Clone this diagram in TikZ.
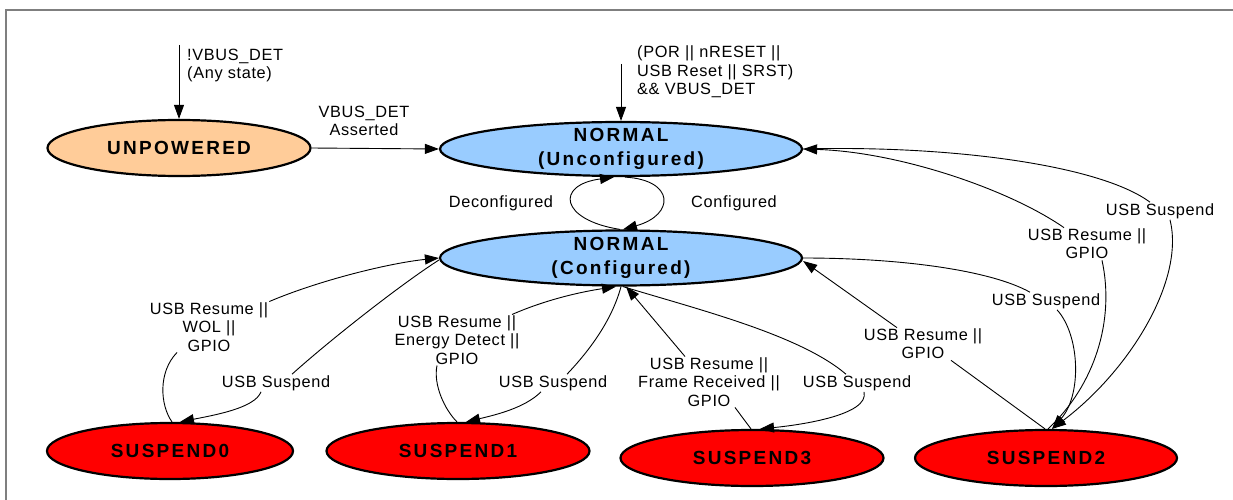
\documentclass[tikz,border=0pt]{standalone}
\usepackage{fontspec}
\setmainfont{Liberation Sans}
\usetikzlibrary{shapes.geometric,arrows.meta}
\definecolor{peach}{HTML}{FFCC99}
\definecolor{lblue}{HTML}{99CCFF}
\definecolor{framegray}{HTML}{7F7F7F}
\newcommand\statefont{\fontsize{19}{23.5}\selectfont\bfseries\addfontfeature{LetterSpace=12}}
\newcommand\lblfont{\fontsize{16.3}{18.3}\selectfont\addfontfeature{LetterSpace=4}}
\begin{document}
\begin{tikzpicture}[x=1pt,y=-1pt,
  state/.style={ellipse, draw=black, line width=2.2pt, inner xsep=0pt, inner ysep=-6pt, align=center, font=\statefont},
  lbl/.style={align=center, inner sep=1pt, font=\lblfont},
  conn/.style={line width=0.9pt},
  arr/.style={conn, -{Triangle[length=14pt,width=10pt]}},
]
\useasboundingbox (0,0) rectangle (1233,500);
\draw[framegray, line width=1.5pt] (6,500) -- (6,10) -- (1233,10);

% states
\node[state, fill=peach, minimum width=263pt, minimum height=56pt] (up) at (179,148) {UNPOWERED};
\node[state, fill=lblue, minimum width=362pt, minimum height=54pt] (nu) at (621,149) {NORMAL\\(Unconfigured)};
\node[state, fill=lblue, minimum width=362pt, minimum height=55pt] (nc) at (621,258) {NORMAL\\(Configured)};
\node[state, fill=red, minimum width=246pt, minimum height=56pt] (s0) at (170,451) {SUSPEND0};
\node[state, fill=red, minimum width=263pt, minimum height=56pt] (s1) at (458,451) {SUSPEND1};
\node[state, fill=red, minimum width=263pt, minimum height=56pt] (s3) at (752,458) {SUSPEND3};
\node[state, fill=red, minimum width=262pt, minimum height=56pt] (s2) at (1046,458) {SUSPEND2};

% labels
\node[lbl, align=left, anchor=west] (l1) at (186,65.5) {!VBUS\_DET\\(Any state)};
\node[lbl] (l2) at (364,121) {VBUS\_DET\\Asserted};
\node[lbl, align=left, anchor=west] (l3) at (636,72) {(POR || nRESET ||\\USB Reset || SRST)\\\&\& VBUS\_DET};
\node[lbl] (ldec) at (501,203) {Deconfigured};
\node[lbl] (lcon) at (734,203) {Configured};
\node[lbl] (la) at (1087,244) {USB Resume ||\\GPIO};
\node[lbl] (lb) at (1160,211) {USB Suspend};
\node[lbl] (lc) at (1046,301) {USB Suspend};
\node[lbl] (ld) at (923,344) {USB Resume ||\\GPIO};
\node[lbl] (le) at (209,327) {USB Resume ||\\WOL ||\\GPIO};
\node[lbl] (lf) at (276,383) {USB Suspend};
\node[lbl] (lg) at (457,340) {USB Resume ||\\Energy Detect ||\\GPIO};
\node[lbl] (lh) at (553,383) {USB Suspend};
\node[lbl] (li) at (709,382) {USB Resume ||\\Frame Received ||\\GPIO};
\node[lbl] (lj) at (857,383) {USB Suspend};

% entry arrows
\coordinate (t1) at (179,45);
\coordinate (t2) at (621,64);
\draw[arr] (t1) -- (up.north);
\draw[arr] (t2) -- (nu.north);
\draw[arr] (up.east) -- (nu.west);

% configure loop
\draw[arr] ([xshift=-1pt]nc.north) .. controls (560,220) and (555,185) .. ([xshift=-7pt]nu.south);
\draw[arr] ([xshift=4pt]nu.south) .. controls (675,180) and (675,215) .. ([xshift=2pt]nc.north);

% SUSPEND2 <-> NORMAL (Unconfigured)
\draw[conn] ([xshift=2pt]s2.north) .. controls (1095,385) and (1115,320) .. ([xshift=15pt]la.south);
\draw[arr] ([xshift=-23pt]la.north) .. controls (1010,190) and (900,152) .. (nu.east);
\draw[conn] (nu.east) .. controls (950,145) and (1100,165) .. ([xshift=-10pt]lb.north);
\draw[arr] ([xshift=10pt]lb.south) .. controls (1185,280) and (1130,370) .. ([xshift=6pt]s2.north);

% SUSPEND2 <-> NORMAL (Configured)
\draw[conn] (nc.east) .. controls (900,258) and (990,270) .. ([xshift=-16pt]lc.north);
\draw[arr] ([xshift=11pt]lc.south) .. controls (1080,335) and (1082,395) .. ([xshift=6pt]s2.north);
\draw[conn] ([xshift=-1pt]s2.north) -- ([xshift=28pt]ld.south);
\draw[arr] ([xshift=-26pt]ld.north) -- ([yshift=-3pt]nc.east);

% SUSPEND0
\draw[conn] ([xshift=2pt]s0.north) .. controls (160,405) and (158,372) .. ([xshift=-32pt]le.south);
\draw[arr] (le.north east) .. controls (320,280) and (390,263) .. (nc.west);
\draw[conn] ([yshift=-2pt]nc.west) .. controls (400,285) and (330,340) .. ([xshift=16pt]lf.north);
\draw[arr] ([xshift=-15pt]lf.south) .. controls (255,408) and (215,415) .. ([xshift=10pt]s0.north);

% SUSPEND1
\draw[conn] ([xshift=-1pt]s1.north) .. controls (445,410) and (433,385) .. ([xshift=-20pt]lg.south);
\draw[arr] ([xshift=55pt]lg.north) .. controls (545,300) and (580,292) .. ([xshift=-5pt]nc.south);
\draw[conn] (nc.south) .. controls (612,320) and (590,350) .. ([xshift=14pt]lh.north);
\draw[arr] ([xshift=-12pt]lh.south) .. controls (525,408) and (495,415) .. ([xshift=8pt]s1.north);

% SUSPEND3
\draw[conn] ([xshift=-1pt]s3.north) -- ([xshift=26pt]li.south);
\draw[arr] ([xshift=-24pt]li.north) -- ([xshift=5pt]nc.south);
\draw[conn] ([xshift=2pt]nc.south) .. controls (700,310) and (800,335) .. ([xshift=-11pt]lj.north);
\draw[arr] ([xshift=7pt]lj.south) .. controls (870,415) and (800,425) .. ([xshift=8pt]s3.north);
\end{tikzpicture}
\end{document}
